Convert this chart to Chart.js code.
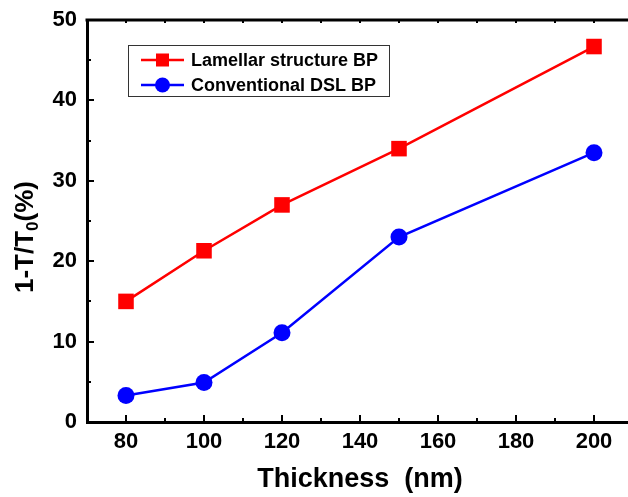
<!DOCTYPE html>
<html>
<head>
<meta charset="utf-8">
<script src="https://cdn.jsdelivr.net/npm/chart.js@4.4.0/dist/chart.umd.min.js"></script>
<style>
  html, body { margin: 0; padding: 0; background: #fff; overflow: hidden; }
  #wrap { position: absolute; left: 0; top: 0; width: 640px; height: 497px; }
</style>
</head>
<body>
<div id="wrap"><canvas id="c" width="640" height="497"></canvas></div>
<script>
const thickness = [80, 100, 120, 150, 200];
const lamellar = [15.0, 21.3, 27.0, 34.0, 46.7];
const conventional = [3.3, 4.9, 11.1, 23.0, 33.5];
const xTickValues = [80, 100, 120, 140, 160, 180, 200];
const yTickValues = [0, 10, 20, 30, 40, 50];
const seriesNames = ['Lamellar structure BP', 'Conventional DSL BP'];
const xTitle = 'Thickness  (nm)';

const FONT = '"Liberation Sans", Arial, sans-serif';

const toPoints = (ys) => thickness.map((x, i) => ({ x: x, y: ys[i] }));

const decor = {
  id: 'decor',
  afterDraw(chart) {
    const ctx = chart.ctx;
    const a = chart.chartArea;
    const xs = chart.scales.x, ys = chart.scales.y;
    ctx.save();
    ctx.strokeStyle = '#000';
    // top and right frame
    ctx.lineWidth = 3;
    ctx.beginPath();
    ctx.moveTo(a.left - 1.5, a.top);
    ctx.lineTo(a.right + 1.5, a.top);
    ctx.moveTo(a.right, a.top);
    ctx.lineTo(a.right, a.bottom);
    ctx.stroke();
    // ticks
    ctx.lineWidth = 2;
    ctx.beginPath();
    for (let v = 70; v <= 210; v += 10) {
      const px = Math.round(xs.getPixelForValue(v));
      const major = (v - 80) % 20 === 0;
      const len = major ? 7 : 4;
      ctx.moveTo(px, a.bottom);
      ctx.lineTo(px, a.bottom - len);
      ctx.moveTo(px, a.top);
      ctx.lineTo(px, a.top + 3);
    }
    for (let v = 0; v <= 50; v += 5) {
      const py = Math.round(ys.getPixelForValue(v));
      const major = v % 10 === 0;
      const len = major ? 7 : 4;
      ctx.moveTo(a.left, py);
      ctx.lineTo(a.left + len, py);
    }
    ctx.stroke();

    // x title
    ctx.fillStyle = '#000';
    ctx.font = 'bold 27px ' + FONT;
    ctx.textAlign = 'center';
    ctx.textBaseline = 'alphabetic';
    ctx.fillText(xTitle, (a.left + a.right) / 2, 487);

    // y title with subscript
    ctx.save();
    ctx.translate(33, 237);
    ctx.rotate(-Math.PI / 2);
    const big = 'bold 26px ' + FONT, small = 'bold 17px ' + FONT;
    const p1 = '1-T/T', p2 = '0', p3 = '(%)';
    ctx.font = big; const w1 = ctx.measureText(p1).width; const w3 = ctx.measureText(p3).width;
    ctx.font = small; const w2 = ctx.measureText(p2).width;
    let sx = -(w1 + w2 + w3) / 2;
    ctx.textAlign = 'left';
    ctx.font = big; ctx.fillText(p1, sx, 0); sx += w1;
    ctx.font = small; ctx.fillText(p2, sx, 5); sx += w2;
    ctx.font = big; ctx.fillText(p3, sx, 0);
    ctx.restore();

    // legend
    ctx.lineWidth = 1;
    ctx.strokeStyle = '#333';
    ctx.strokeRect(128.5, 45.5, 261, 51);
    const rows = [60, 85];
    chart.data.datasets.forEach((ds, i) => {
      const y = rows[i];
      ctx.strokeStyle = ds.borderColor;
      ctx.lineWidth = 2.5;
      ctx.beginPath();
      ctx.moveTo(141, y);
      ctx.lineTo(184, y);
      ctx.stroke();
      ctx.fillStyle = ds.backgroundColor;
      if (ds.pointStyle === 'rect') {
        ctx.fillRect(156, y - 6.5, 13, 13);
      } else {
        ctx.beginPath();
        ctx.arc(162.5, y, 7.5, 0, Math.PI * 2);
        ctx.fill();
      }
      ctx.fillStyle = '#000';
      ctx.font = 'bold 18px ' + FONT;
      ctx.textAlign = 'left';
      ctx.textBaseline = 'middle';
      ctx.fillText(seriesNames[i], 191, y + 1);
    });
    ctx.restore();
  }
};

new Chart(document.getElementById('c'), {
  type: 'line',
  data: {
    datasets: [
      {
        label: seriesNames[0],
        data: toPoints(lamellar),
        borderColor: '#ff0000',
        backgroundColor: '#ff0000',
        borderWidth: 2.5,
        pointStyle: 'rect',
        pointRadius: 11,
        pointHoverRadius: 11,
        pointBorderWidth: 0,
        tension: 0
      },
      {
        label: seriesNames[1],
        data: toPoints(conventional),
        borderColor: '#0000ff',
        backgroundColor: '#0000ff',
        borderWidth: 2.5,
        pointStyle: 'circle',
        pointRadius: 8.5,
        pointHoverRadius: 8.5,
        pointBorderWidth: 0,
        tension: 0
      }
    ]
  },
  options: {
    responsive: false,
    animation: false,
    events: [],
    layout: { autoPadding: false, padding: { left: 0, top: 20, right: 7, bottom: 0 } },
    plugins: { legend: { display: false }, tooltip: { enabled: false } },
    scales: {
      x: {
        type: 'linear',
        min: 70, max: 210,
        afterBuildTicks: (s) => { s.ticks = xTickValues.map(v => ({ value: v })); },
        afterFit: (s) => { s.height = 75; s.paddingLeft = 0; s.paddingRight = 0; },
        grid: { display: false, drawTicks: false },
        border: { display: true, width: 3, color: '#000' },
        ticks: { color: '#000', padding: 7, maxRotation: 0, autoSkip: false,
                 font: { family: FONT, size: 22, weight: 'bold' } }
      },
      y: {
        min: 0, max: 50,
        afterBuildTicks: (s) => { s.ticks = yTickValues.map(v => ({ value: v })); },
        afterFit: (s) => { s.width = 87; s.paddingTop = 0; s.paddingBottom = 0; },
        grid: { display: false, drawTicks: false },
        border: { display: true, width: 3, color: '#000' },
        ticks: { color: '#000', padding: 10, autoSkip: false,
                 font: { family: FONT, size: 22, weight: 'bold' } }
      }
    }
  },
  plugins: [decor]
});
</script>
</body>
</html>
